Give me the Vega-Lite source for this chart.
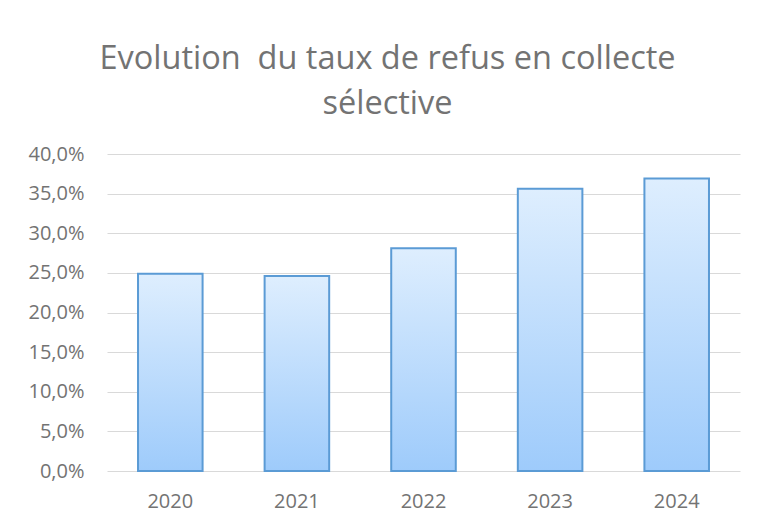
{
  "$schema": "https://vega.github.io/schema/vega-lite/v6.json",
  "autosize": "none",
  "width": 633,
  "height": 317,
  "padding": {"left": 107, "top": 154, "right": 19, "bottom": 58},
  "background": "white",
  "config": {"view": {"stroke": null}, "font": "Open Sans"},
  "title": {
    "text": ["Evolution\u00a0 du taux de refus en collecte", "sélective"],
    "font": "Open Sans",
    "fontSize": 32.5,
    "fontWeight": "normal",
    "color": "#737373",
    "anchor": "middle",
    "frame": "group",
    "dx": -36,
    "offset": 24,
    "lineHeight": 45
  },
  "data": {
    "values": [
      {"year": "2020", "rate": 0.249},
      {"year": "2021", "rate": 0.246},
      {"year": "2022", "rate": 0.281},
      {"year": "2023", "rate": 0.356},
      {"year": "2024", "rate": 0.369}
    ]
  },
  "mark": {
    "type": "bar",
    "stroke": "#5b9bd5",
    "strokeWidth": 2,
    "color": {
      "gradient": "linear",
      "x1": 0, "y1": 0, "x2": 0, "y2": 1,
      "stops": [
        {"offset": 0, "color": "#deeefe"},
        {"offset": 1, "color": "#9ecbfb"}
      ]
    }
  },
  "encoding": {
    "x": {
      "field": "year",
      "type": "ordinal",
      "scale": {"paddingInner": 0.49, "paddingOuter": 0.245},
      "axis": {
        "title": null,
        "labelAngle": 0,
        "labelColor": "#737373",
        "labelFontSize": 20,
        "labelPadding": 20,
        "ticks": false,
        "domain": false
      }
    },
    "y": {
      "field": "rate",
      "type": "quantitative",
      "scale": {"domain": [0, 0.4], "nice": false},
      "axis": {
        "title": null,
        "values": [0, 0.05, 0.1, 0.15, 0.2, 0.25, 0.3, 0.35, 0.4],
        "labelExpr": "replace(format(datum.value, '.1%'), '.', ',')",
        "labelColor": "#737373",
        "labelFontSize": 20,
        "labelPadding": 23,
        "ticks": false,
        "domain": false,
        "gridColor": "#d9d9d9",
        "gridWidth": 1
      }
    }
  }
}
